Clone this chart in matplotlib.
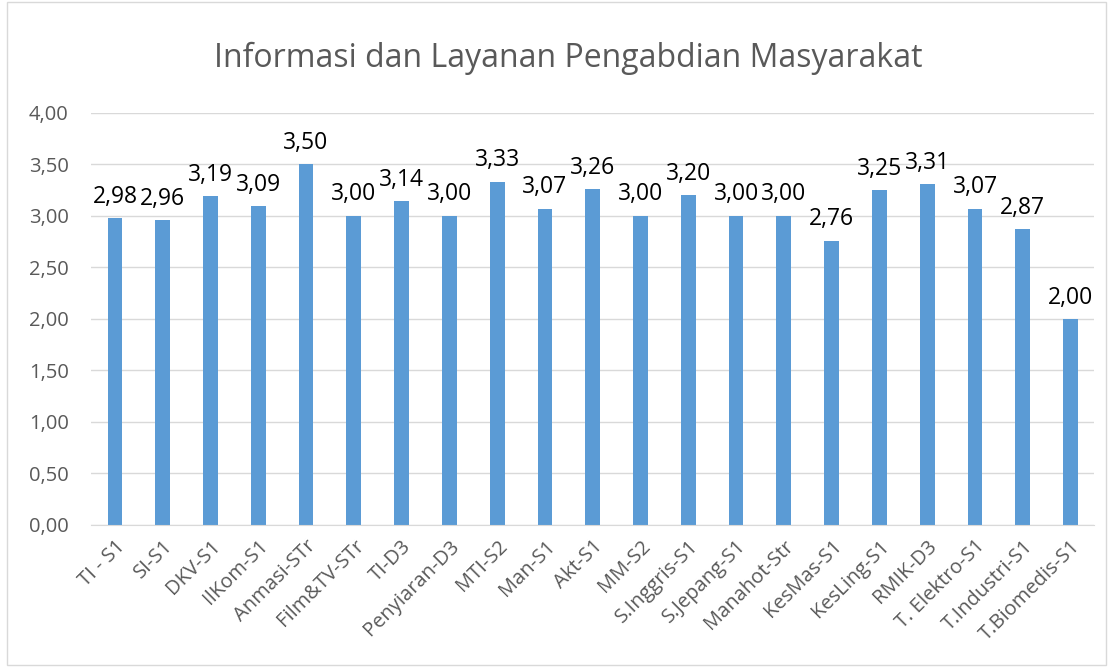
import matplotlib.pyplot as plt
from matplotlib.patches import Rectangle

prodi = ["TI - S1", "SI-S1", "DKV-S1", "IlKom-S1", "Anmasi-STr", "Film&TV-STr",
         "TI-D3", "Penyiaran-D3", "MTI-S2", "Man-S1", "Akt-S1", "MM-S2",
         "S.Inggris-S1", "S.Jepang-S1", "Manahot-Str", "KesMas-S1", "KesLing-S1",
         "RMIK-D3", "T. Elektro-S1", "T.Industri-S1", "T.Biomedis-S1"]
nilai = [2.98, 2.96, 3.19, 3.09, 3.50, 3.00, 3.14, 3.00, 3.33, 3.07, 3.26, 3.00,
         3.20, 3.00, 3.00, 2.76, 3.25, 3.31, 3.07, 2.87, 2.00]
yticks = [0, 0.5, 1.0, 1.5, 2.0, 2.5, 3.0, 3.5, 4.0]

def koma(v):
    return f"{v:.2f}".replace(".", ",")

plt.rcParams['font.family'] = ['Open Sans', 'DejaVu Sans']
grey = "#595959"

fig = plt.figure(figsize=(11.1, 6.67), dpi=100)
fig.patches.append(Rectangle((0.006, 0.003), 0.99, 0.994, transform=fig.transFigure,
                             fill=False, edgecolor="#D9D9D9", linewidth=1))
ax = fig.add_axes([0.082, 0.213, 0.904, 0.618])

x = range(len(prodi))
bars = ax.bar(x, nilai, width=0.31, color="#5B9BD5", zorder=2)
for xi, v in zip(x, nilai):
    ax.text(xi, v + 0.09, koma(v), ha="center", va="bottom", fontsize=16.5, color="black")

ax.set_ylim(0, 4)
ax.set_xlim(-0.5, len(prodi) - 0.5)
ax.set_yticks(yticks)
ax.set_yticklabels([koma(v) for v in yticks], fontsize=14.5, color=grey)
ax.set_xticks(list(x))
ax.set_xticklabels(prodi, rotation=45, ha="right", rotation_mode="anchor",
                   fontsize=14.5, color=grey)
ax.yaxis.grid(True, color="#D9D9D9", linewidth=1, zorder=0)
ax.tick_params(axis="both", length=0)
ax.tick_params(axis="y", pad=16)
ax.tick_params(axis="x", pad=8)
for s in ["top", "right", "left"]:
    ax.spines[s].set_visible(False)
ax.spines["bottom"].set_color("#D9D9D9")

fig.text(0.512, 0.912, "Informasi dan Layanan Pengabdian Masyarakat",
         ha="center", va="center", fontsize=23, color=grey)

fig.savefig("out.png", dpi=100)
